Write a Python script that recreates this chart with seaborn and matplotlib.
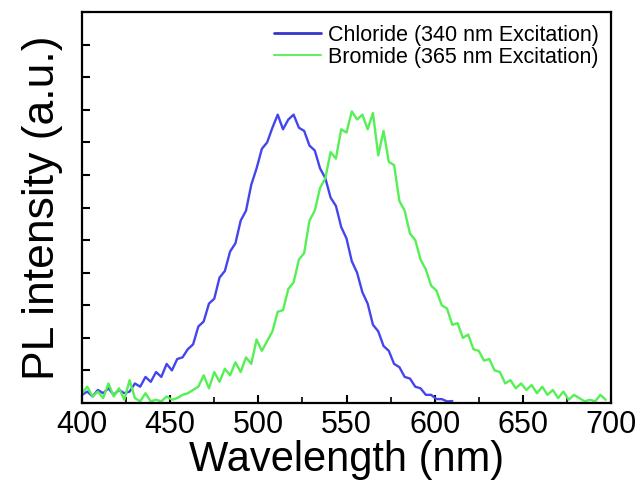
import numpy as np
import pandas as pd
import seaborn as sns
import matplotlib
matplotlib.use("Agg")
import matplotlib.pyplot as plt
from matplotlib.ticker import MultipleLocator
from matplotlib.lines import Line2D

# ---- data (3 nm sampling) ----
series_names = ["Chloride (340 nm Excitation)", "Bromide (365 nm Excitation)"]

chloride_start = 400
chloride_step = 3
chloride_intensity = [
    0.25, 0.35, 0.20, 0.40, 0.30, 0.45, 0.25, 0.40, 0.30, 0.35,
    0.60, 0.50, 0.80, 0.65, 0.95, 0.80, 1.20, 1.00, 1.35, 1.40,
    1.65, 1.80, 2.35, 2.50, 3.05, 3.20, 3.85, 4.05, 4.65, 4.90,
    5.60, 5.90, 6.70, 7.20, 7.80, 8.00, 8.45, 8.85, 8.40, 8.70,
    8.85, 8.45, 8.35, 7.90, 7.75, 7.20, 6.90, 6.30, 6.05, 5.40,
    5.05, 4.35, 4.00, 3.40, 3.05, 2.40, 2.20, 1.75, 1.60, 1.20,
    1.10, 0.80, 0.75, 0.50, 0.45, 0.25, 0.25, 0.12, 0.12, 0.05,
    0.06,
]

bromide_start = 400
bromide_step = 3
bromide_intensity = [
    0.30, 0.50, 0.20, 0.35, 0.15, 0.60, 0.20, 0.45, 0.10, 0.70,
    0.15, 0.05, 0.30, 0.05, 0.10, 0.05, 0.20, 0.10, 0.15, 0.25,
    0.30, 0.40, 0.50, 0.85, 0.45, 0.95, 0.65, 1.05, 0.85, 1.25,
    0.95, 1.40, 1.20, 1.95, 1.60, 1.90, 2.20, 2.80, 2.85, 3.50,
    3.70, 4.40, 4.60, 5.60, 5.90, 6.60, 6.90, 7.70, 7.50, 8.40,
    8.30, 8.95, 8.70, 8.85, 8.40, 8.90, 7.60, 8.35, 7.40, 7.30,
    6.20, 5.90, 5.20, 5.00, 4.40, 4.10, 3.60, 3.45, 3.00, 2.90,
    2.40, 2.45, 2.00, 2.10, 1.65, 1.60, 1.30, 1.35, 1.00, 0.95,
    0.60, 0.70, 0.45, 0.60, 0.40, 0.55, 0.30, 0.50, 0.25, 0.40,
    0.15, 0.35, 0.10, 0.25, 0.15, 0.05, 0.10, 0.05, 0.25, 0.10,
]

x_ticks = [400, 450, 500, 550, 600, 650, 700]

# ---- build long-form table ----
chl_wl = chloride_start + chloride_step * np.arange(len(chloride_intensity))
bro_wl = bromide_start + bromide_step * np.arange(len(bromide_intensity))
df = pd.concat([
    pd.DataFrame({"wl": chl_wl, "I": chloride_intensity, "sample": series_names[0]}),
    pd.DataFrame({"wl": bro_wl, "I": bromide_intensity, "sample": series_names[1]}),
], ignore_index=True)

sns.set_style("ticks")
plt.rcParams["font.family"] = ["Liberation Sans", "DejaVu Sans"]
plt.rcParams["text.color"] = "black"
plt.rcParams["axes.labelcolor"] = "black"
plt.rcParams["xtick.color"] = "black"
plt.rcParams["ytick.color"] = "black"

fig = plt.figure(figsize=(6.39, 4.88), dpi=100)
ax = fig.add_axes([82 / 639, 1 - 403 / 488, (611 - 82) / 639, (403 - 12) / 488])

colors = ["#4545ee", "#55f055"]
sns.lineplot(data=df, x="wl", y="I", hue="sample", palette=colors,
             estimator=None, sort=False, linewidth=1.7, ax=ax, legend=False)

ax.set_xlim(400, 700)
ax.set_ylim(0, 12)
ax.set_xticks(x_ticks)
ax.set_xticklabels([str(t) for t in x_ticks])
ax.xaxis.set_minor_locator(MultipleLocator(25))
ax.yaxis.set_major_locator(MultipleLocator(1))
ax.set_yticklabels([])

ax.tick_params(axis="x", which="major", direction="in", length=6, width=1.5,
               labelsize=22, pad=5, top=False, labelcolor="black")
ax.tick_params(axis="x", which="minor", direction="in", length=4, width=1.2, top=False)
ax.tick_params(axis="y", which="major", direction="in", length=6, width=1.5, right=False)

for s in ax.spines.values():
    s.set_visible(True)
    s.set_linewidth(1.6)
    s.set_color("black")

ax.set_xlabel("Wavelength (nm)", fontsize=30, labelpad=0, color="black")
ax.set_ylabel("PL intensity (a.u.)", fontsize=32, labelpad=10, color="black")

handles = [Line2D([0], [0], color="#3535cc", lw=2),
           Line2D([0], [0], color="#66ee66", lw=1.5)]
leg = ax.legend(handles, series_names, loc="upper right", frameon=False,
                fontsize=15.5, handlelength=2.2, handletextpad=0.35,
                labelspacing=0.05, borderpad=0, borderaxespad=0,
                bbox_to_anchor=(0.978, 0.968))
for t in leg.get_texts():
    t.set_color("black")

fig.savefig("out.png", dpi=100)
